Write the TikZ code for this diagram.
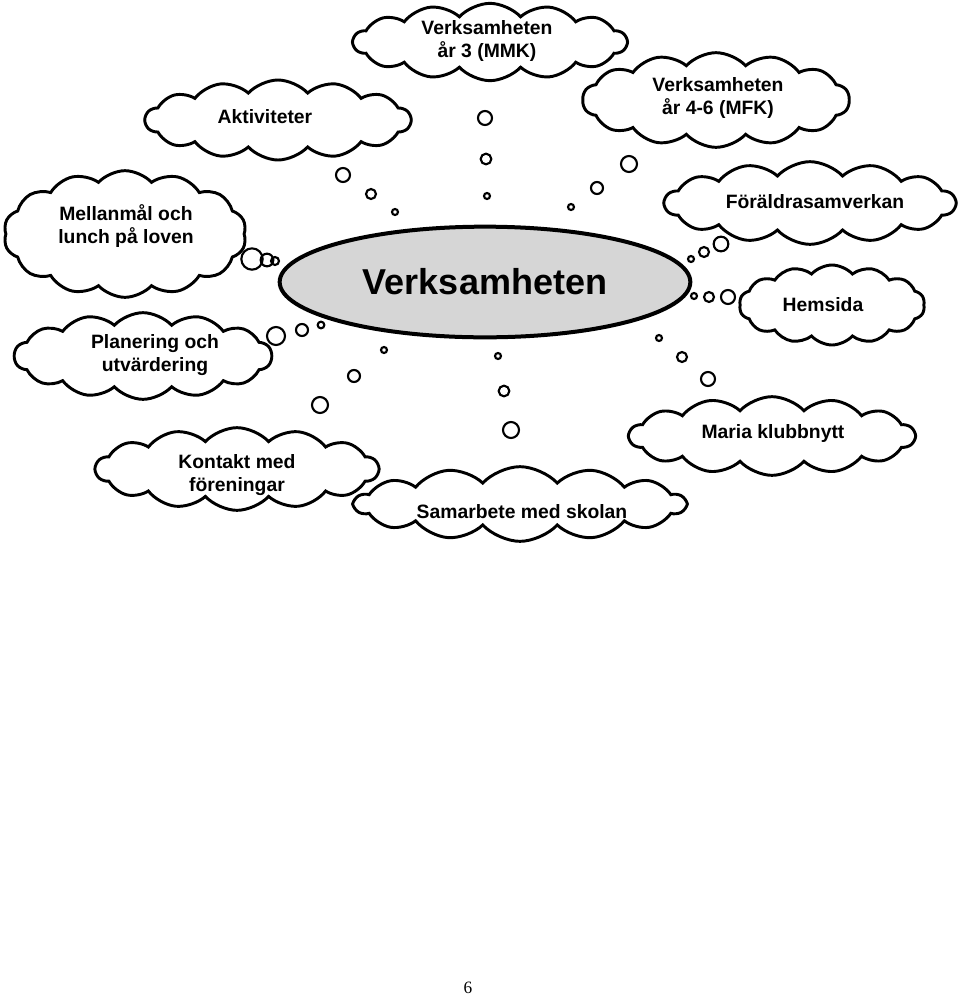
\documentclass[tikz,border=0pt]{standalone}
\usepackage{fontspec}
\setmainfont{Liberation Sans}
\newfontfamily\pagefont{Liberation Serif}
\usetikzlibrary{shapes.symbols, shapes.geometric}
\definecolor{hubgray}{RGB}{214,214,214}

\begin{document}
\begin{tikzpicture}[x=0.75pt, y=-0.75pt,
    idea/.style={cloud, cloud puffs=14, cloud puff arc=95, cloud ignores aspect,
      draw, line width=2.2pt, fill=white, inner sep=0pt},
    ideatext/.style={align=center, inner sep=0pt, font=\fontsize{14.5}{17.5}\selectfont\bfseries},
    bubble/.style={circle, draw, line width=1.6pt, inner sep=0pt}]
    \useasboundingbox (0,0) rectangle (960,997);
    % midten
    \node[ellipse, draw, line width=3pt, fill=hubgray, minimum width=308pt, minimum height=83pt,
      font=\fontsize{27}{31}\selectfont\bfseries] (hub) at (485,282) {Verksamheten};
    % moln
    \node[idea, minimum width=205pt, minimum height=58pt] (mmk) at (490,42) {};
    \node[idea, minimum width=199pt, minimum height=60pt] (akt) at (278,120) {};
    \node[idea, minimum width=200pt, minimum height=71pt] (mfk) at (716,100) {};
    \node[idea, minimum width=182pt, minimum height=95pt] (mellan) at (125,234) {};
    \node[idea, minimum width=218pt, minimum height=62pt] (foralder) at (810,203) {};
    \node[idea, minimum width=139pt, minimum height=60pt] (hemsida) at (832,305) {};
    \node[idea, minimum width=193pt, minimum height=65pt] (planering) at (143,356) {};
    \node[idea, minimum width=212pt, minimum height=62pt] (kontakt) at (237,469) {};
    \node[idea, minimum width=248pt, minimum height=56pt] (skolan) at (520,504) {};
    \node[idea, minimum width=214pt, minimum height=59pt] (maria) at (772,436) {};
    % texter
    \node[ideatext] (mmk-t) at (487,41) {Verksamheten\\år 3 (MMK)};
    \node[ideatext] (akt-t) at (265,117) {Aktiviteter};
    \node[ideatext] (mfk-t) at (718,98) {Verksamheten\\år 4-6 (MFK)};
    \node[ideatext] (mellan-t) at (126,226) {Mellanmål och\\lunch på loven};
    \node[ideatext] (foralder-t) at (815,202) {Föräldrasamverkan};
    \node[ideatext] (hemsida-t) at (823,305) {Hemsida};
    \node[ideatext] (planering-t) at (155,355) {Planering och\\utvärdering};
    \node[ideatext] (kontakt-t) at (237,475) {Kontakt med\\föreningar};
    \node[ideatext] (skolan-t) at (522,512) {Samarbete med skolan};
    \node[ideatext] (maria-t) at (773,433) {Maria klubbnytt};
    % tankebubblor
    \foreach \bx/\by/\bd in {485/118/10.5, 486/159/8, 487/196/4.5,
        343/175/10.5, 371/194/7.5, 395/212/4.5,
        629/164/12, 597/188/9, 571/207/4.5,
        252/259/16, 267/260/9.5, 275/261/6,
        721/244/11, 704/252/7.5, 691/259/4.5,
        728/297/10.5, 709/297/7.5, 694/296/4.5,
        276/336/13.5, 302/330/9, 321/325/5,
        320/405/12, 354/376/9, 384/350/4.5,
        511/430/12, 504/391/8, 498/356/4.5,
        708/379/10.5, 682/357/7.5, 659/338/4.5} {
      \node[bubble, minimum size=\bd pt] (bub-\bx-\by) at (\bx,\by) {};
    }
    % sidnummer
    \node[font=\pagefont\fontsize{13}{15}\selectfont] (pagenum) at (468,988) {6};
\end{tikzpicture}
\end{document}
